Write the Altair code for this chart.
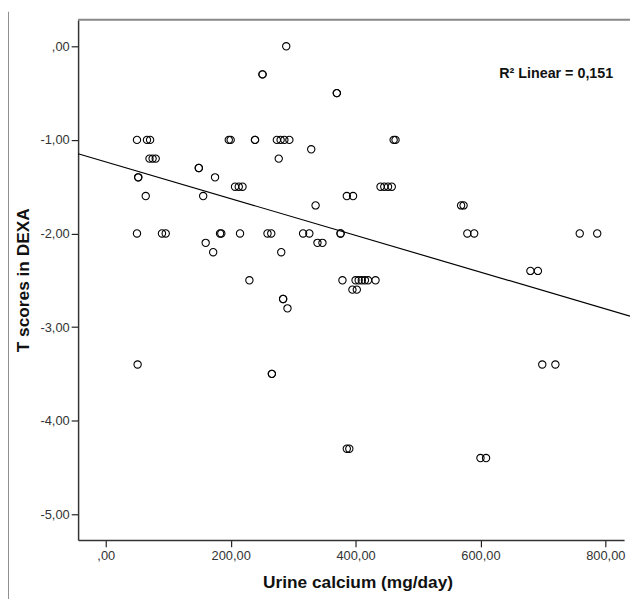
import altair as alt
import pandas as pd

# Urine calcium (mg/day) and T score pairs
calcium = [289, 251, 251, 370, 370,
           50, 66, 71, 197, 200, 239, 239, 274, 280, 286, 294, 461, 464,
           329,
           70, 75, 80, 277,
           149, 149,
           52, 52, 175,
           207, 213, 219, 440, 446, 452, 458,
           64, 156, 386, 396,
           336, 569, 573,
           50, 90, 96, 183, 185, 215, 259, 265, 316, 326, 376, 376, 579, 590, 759, 787,
           160, 339, 347,
           172, 281,
           680, 692,
           230, 379, 400, 405, 410, 415, 420, 432,
           395, 402,
           284, 284,
           291,
           51, 699, 720,
           266, 266,
           386, 390,
           600, 609]
tscore = [0.0, -0.3, -0.3, -0.5, -0.5,
          -1.0, -1.0, -1.0, -1.0, -1.0, -1.0, -1.0, -1.0, -1.0, -1.0, -1.0, -1.0, -1.0,
          -1.1,
          -1.2, -1.2, -1.2, -1.2,
          -1.3, -1.3,
          -1.4, -1.4, -1.4,
          -1.5, -1.5, -1.5, -1.5, -1.5, -1.5, -1.5,
          -1.6, -1.6, -1.6, -1.6,
          -1.7, -1.7, -1.7,
          -2.0, -2.0, -2.0, -2.0, -2.0, -2.0, -2.0, -2.0, -2.0, -2.0, -2.0, -2.0, -2.0, -2.0, -2.0, -2.0,
          -2.1, -2.1, -2.1,
          -2.2, -2.2,
          -2.4, -2.4,
          -2.5, -2.5, -2.5, -2.5, -2.5, -2.5, -2.5, -2.5,
          -2.6, -2.6,
          -2.7, -2.7,
          -2.8,
          -3.4, -3.4, -3.4,
          -3.5, -3.5,
          -4.3, -4.3,
          -4.4, -4.4]

# Fitted linear line (ends)
fit_x = [-44.3, 839.5]
fit_y = [-1.148, -2.883]

x_ticks = [0, 200, 400, 600, 800]
y_ticks = [0, -1, -2, -3, -4, -5]
annotation = ["R² Linear = 0,151"]
annotation_x = [630]
annotation_y = [-0.295]

df = pd.DataFrame({"x": calcium, "y": tscore})
fit = pd.DataFrame({"x": fit_x, "y": fit_y})
ann = pd.DataFrame({"label": annotation, "x": annotation_x, "y": annotation_y})

label_expr = ("datum.value == 0 ? ',00' : "
              "replace(replace(format(datum.value, '.2f'), '.', ','), '\u2212', '-')")
FONT = "Liberation Sans"

xscale = alt.Scale(domain=[-44.3, 830], nice=False, zero=False)
yscale = alt.Scale(domain=[-5.275, 0.285], nice=False, zero=False)

xaxis = alt.Axis(values=x_ticks, labelExpr=label_expr, grid=False, tickSize=7,
                 tickColor="#222", domainColor="#333", domainWidth=1.5, tickWidth=1.2,
                 labelFont=FONT, labelFontSize=13, labelColor="#333", labelPadding=3,
                 title="Urine calcium (mg/day)", titleFont=FONT, titleFontSize=17.5,
                 titleFontWeight="bold", titleColor="#111", titlePadding=11,
                 titleX=283)
yaxis = alt.Axis(values=y_ticks, labelExpr=label_expr, grid=False, tickSize=7,
                 tickColor="#222", domainColor="#333", domainWidth=1.5, tickWidth=1.2,
                 labelFont=FONT, labelFontSize=13, labelColor="#333", labelPadding=2,
                 title="T scores in DEXA", titleFont=FONT, titleFontSize=17.5,
                 titleFontWeight="bold", titleColor="#111", titlePadding=8)

points = alt.Chart(df).mark_point(shape="circle", filled=False, color="black", size=55,
                                  strokeWidth=1.1, opacity=1).encode(
    x=alt.X("x:Q", scale=xscale, axis=xaxis),
    y=alt.Y("y:Q", scale=yscale, axis=yaxis),
)

line = alt.Chart(fit).mark_line(color="black", strokeWidth=1.2, clip=False).encode(
    x=alt.X("x:Q", scale=xscale),
    y=alt.Y("y:Q", scale=yscale),
)

text = alt.Chart(ann).mark_text(align="left", baseline="middle", font=FONT,
                                fontSize=14.5, fontWeight="bold", color="#111").encode(
    x=alt.X("x:Q", scale=xscale),
    y=alt.Y("y:Q", scale=yscale),
    text="label:N",
)

top_border = alt.Chart(ann).mark_rule(color="#888", strokeWidth=2).encode(
    y=alt.value(0), x=alt.value(0), x2=alt.value(570))
left_border = alt.Chart(ann).mark_rule(color="#444", strokeWidth=1.2).encode(
    x=alt.value(-71), y=alt.value(-8), y2=alt.value(600))

chart = alt.layer(top_border, left_border, points, line, text).properties(
    width=553, height=527,
    autosize=alt.AutoSizeParams(type="none"),
    padding={"left": 71, "top": 8, "right": 6, "bottom": 56},
).configure_view(stroke=None)

chart.save("out.html", embed_options={"renderer": "svg", "actions": False})
